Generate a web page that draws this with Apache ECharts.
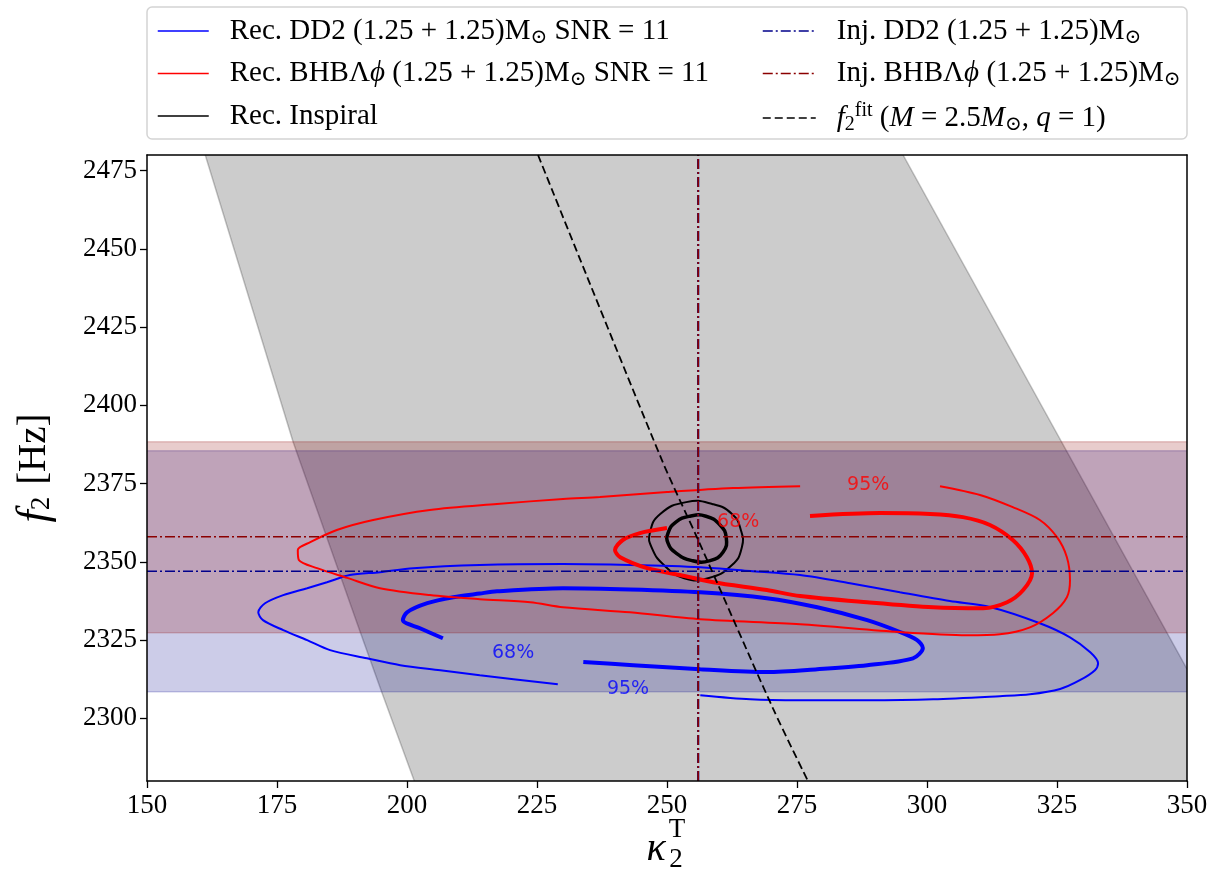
<!DOCTYPE html>
<html>
<head>
<meta charset="utf-8">
<script src="https://cdn.jsdelivr.net/npm/echarts@6/dist/echarts.min.js"></script>
<style>
  html, body { margin: 0; padding: 0; background: #fff; }
  #chart { width: 1212px; height: 875px; }
</style>
</head>
<body>
<div id="chart"></div>
<script>
// ---- axes ----
const xRange = [150, 350];
const yRange = [2280, 2480];
const xTicks = [150, 175, 200, 225, 250, 275, 300, 325, 350];
const yTicks = [2300, 2325, 2350, 2375, 2400, 2425, 2450, 2475];

// ---- injected values ----
const kappaInj = 256.0;
const f2InjDD2 = 2347.0;
const f2InjBHB = 2358.0;
const bandDD2 = [2308.5, 2385.5];
const bandBHB = [2327.4, 2388.4];

// ---- f2 fit curve and its uncertainty band (kappa, f2) ----
const fitLine = [[225.2, 2480], [249.0, 2382.6], [256.0, 2357.0], [270.4, 2303.1], [277.1, 2280]];
const fitBandLow = [[161.2, 2480], [178.1, 2388.3], [191.0, 2327.6], [195.2, 2308.1], [201.4, 2280]];
const fitBandHigh = [[295.4, 2480], [350.0, 2315.8]];

// ---- recovered posterior contours (kappa, f2) ----
const dd2Cont95 = [
  [229.0, 2310.9], [214.0, 2313.8], [206.4, 2315.4], [198.7, 2317.0], [192.3, 2319.2], [185.2, 2321.8],
  [180.8, 2325.0], [176.2, 2328.2], [172.3, 2331.4], [171.4, 2333.9], [172.7, 2336.8], [176.2, 2339.4],
  [180.8, 2341.6], [184.6, 2343.5], [189.0, 2345.8], [194.8, 2346.7], [201.2, 2348.0], [214.0, 2349.0],
  [230.0, 2349.3], [242.9, 2349.0], [256.4, 2348.3], [266.0, 2347.1], [275.6, 2345.8], [285.2, 2343.2],
  [294.8, 2340.3], [304.4, 2337.5], [312.1, 2335.6], [321.7, 2330.4], [327.5, 2325.9], [331.4, 2321.1],
  [332.9, 2317.6], [332.3, 2315.4], [329.4, 2312.2], [325.6, 2309.4], [319.8, 2307.7], [314.0, 2307.1],
  [301.2, 2306.1], [288.5, 2305.8], [275.6, 2305.8], [266.0, 2306.1], [256.4, 2307.4]
];
const dd2Cont68 = [
  [206.9, 2325.6], [202.5, 2328.8], [199.2, 2331.4], [200.0, 2333.9], [203.9, 2336.8], [208.9, 2338.7],
  [214.0, 2339.9], [217.3, 2340.6], [230.0, 2341.6], [242.9, 2341.2], [256.4, 2340.3], [269.2, 2338.4],
  [278.9, 2335.5], [288.5, 2331.4], [294.8, 2327.6], [298.1, 2325.0], [299.2, 2322.5], [297.3, 2319.2],
  [288.5, 2317.0], [278.9, 2315.7], [269.2, 2314.8], [256.4, 2315.7], [243.5, 2317.0], [233.9, 2318.0]
];
const bhbCont95 = [
  [275.6, 2374.2], [262.7, 2373.6], [250.0, 2372.3], [237.1, 2370.7], [230.0, 2370.1], [217.3, 2368.5],
  [204.4, 2366.6], [193.5, 2363.4], [186.5, 2360.2], [181.4, 2356.3], [179.0, 2353.8], [179.2, 2350.6],
  [182.7, 2348.0], [188.5, 2344.9], [194.8, 2341.6], [204.4, 2339.4], [214.0, 2338.1], [223.7, 2337.1],
  [230.0, 2335.5], [242.9, 2333.9], [256.4, 2331.7], [275.6, 2330.1], [294.8, 2327.6], [307.7, 2326.6],
  [314.0, 2326.9], [319.8, 2329.1], [324.2, 2333.6], [326.9, 2338.7], [327.5, 2344.1], [326.9, 2351.5],
  [325.0, 2357.9], [321.7, 2363.4], [316.5, 2367.5], [310.2, 2371.4], [302.5, 2374.2]
];
const bhbCont68 = [
  [250.0, 2360.8], [244.8, 2359.2], [241.5, 2357.0], [240.0, 2353.8], [241.0, 2351.5], [246.2, 2348.0],
  [252.5, 2345.8], [258.9, 2343.5], [269.2, 2341.0], [275.6, 2339.1], [288.5, 2337.1], [301.2, 2335.5],
  [310.8, 2335.2], [315.4, 2337.1], [318.5, 2341.0], [320.2, 2346.4], [319.2, 2351.5], [316.5, 2357.0],
  [312.1, 2361.8], [306.9, 2364.3], [300.6, 2365.3], [291.0, 2365.6], [277.5, 2364.7]
];
// inspiral-only contours are closed loops
const inspCont95 = [
  [246.7, 2359.2], [248.7, 2365.3], [253.7, 2369.1], [258.7, 2368.5], [262.5, 2365.3], [264.2, 2360.2],
  [264.4, 2354.7], [262.5, 2349.0], [257.9, 2344.8], [253.3, 2344.8], [249.4, 2349.0], [247.1, 2354.4]
];
const inspCont68 = [
  [250.2, 2359.2], [251.7, 2362.7], [254.4, 2364.6], [257.5, 2364.6], [260.2, 2361.8], [261.4, 2357.7],
  [260.8, 2353.2], [258.3, 2350.4], [254.8, 2350.4], [251.7, 2352.9], [250.2, 2356.0]
];

// ---- contour level labels (kappa, f2, text) ----
const dd2Labels = [[220.4, 2320.8, '68%'], [242.5, 2309.3, '95%']];
const bhbLabels = [[263.7, 2362.7, '68%'], [288.7, 2374.6, '95%']];

// ---- styling ----
const SERIF = "'Liberation Serif', 'DejaVu Serif', serif";
const BLUE = '#0000ff', RED = '#ff0000', DBLUE = '#00008b', DRED = '#8b0000';
const DASHDOT = [10, 3, 2, 3];

const NAMES = {
  dd2: 'Rec. DD2', bhb: 'Rec. BHBΛϕ', insp: 'Rec. Inspiral',
  injDD2: 'Inj. DD2', injBHB: 'Inj. BHBΛϕ', fit: 'f2 fit'
};
const legendText = {};
legendText[NAMES.dd2] = '{sp| }Rec. DD2 (1.25 + 1.25)M{sub|⊙} SNR = 11';
legendText[NAMES.bhb] = '{sp| }Rec. BHBΛ{i|ϕ} (1.25 + 1.25)M{sub|⊙} SNR = 11';
legendText[NAMES.insp] = '{sp| }Rec. Inspiral';
legendText[NAMES.injDD2] = '{sp| }Inj. DD2 (1.25 + 1.25)M{sub|⊙}';
legendText[NAMES.injBHB] = '{sp| }Inj. BHBΛ{i|ϕ} (1.25 + 1.25)M{sub|⊙}';
legendText[NAMES.fit] = '{sp| }{i|f}{sub|2}{sup|fit} ({i|M} = 2.5{i|M}{sub|⊙}, {i|q} = 1)';

const legendTextStyle = {
  fontFamily: SERIF, fontSize: 29, color: '#000', lineHeight: 30,
  rich: {
    sp: { width: 16 },
    i: { fontFamily: SERIF, fontSize: 29, fontStyle: 'italic', color: '#000' },
    sub: { fontFamily: SERIF, fontSize: 20, color: '#000', padding: [13, 0, 0, 0] },
    sup: { fontFamily: SERIF, fontSize: 20, color: '#000', padding: [0, 0, 14, 0] }
  }
};

function line(name, data, color, width, type, smooth) {
  return {
    type: 'line', name: name, data: data, symbol: 'none', smooth: smooth || 0,
    lineStyle: { color: color, width: width, type: type || 'solid' },
    itemStyle: { color: color }, silent: true, z: 3
  };
}

// closed, smoothed contour loops drawn through the cartesian scales
function loopSeries(loops) {
  return {
    type: 'custom', silent: true, z: 3, clip: true,
    data: loops.map(function (l) { return l.points[0]; }),
    renderItem: function (params, api) {
      const l = loops[params.dataIndex];
      return {
        type: 'polygon',
        shape: { points: l.points.map(function (p) { return api.coord(p); }), smooth: 0.5 },
        style: { fill: null, stroke: l.color, lineWidth: l.width }
      };
    }
  };
}

function hBand(range, color) {
  return {
    type: 'custom', silent: true, z: 1, clip: true,
    data: [[xRange[0], range[0], xRange[1], range[1]]],
    encode: { x: [0, 2], y: [1, 3] },
    renderItem: function (params, api) {
      const p0 = api.coord([api.value(0), api.value(1)]);
      const p1 = api.coord([api.value(2), api.value(3)]);
      return {
        type: 'group', children: [
          { type: 'rect', shape: { x: p0[0], y: p1[1], width: p1[0] - p0[0], height: p0[1] - p1[1] }, style: { fill: color } },
          { type: 'line', shape: { x1: p0[0], y1: p1[1], x2: p1[0], y2: p1[1] }, style: { stroke: color, lineWidth: 1.5 } },
          { type: 'line', shape: { x1: p0[0], y1: p0[1], x2: p1[0], y2: p0[1] }, style: { stroke: color, lineWidth: 1.5 } }
        ]
      };
    }
  };
}

const fitBandSeries = {
  type: 'custom', silent: true, z: 1, clip: true,
  data: [fitBandLow[0]],
  renderItem: function (params, api) {
    const left = fitBandLow.map(function (p) { return api.coord(p); });
    const right = fitBandHigh.map(function (p) { return api.coord(p); });
    const corner = api.coord([xRange[1], yRange[0]]);
    const poly = left.concat([corner], right.slice().reverse());
    const edge = { stroke: 'rgba(0,0,0,0.22)', lineWidth: 1.5, fill: null };
    return {
      type: 'group', children: [
        { type: 'polygon', shape: { points: poly }, style: { fill: 'rgba(0,0,0,0.2)' } },
        { type: 'polyline', shape: { points: left }, style: edge },
        { type: 'polyline', shape: { points: right }, style: edge }
      ]
    };
  }
};

function labelSeries(data, color) {
  return {
    type: 'scatter', data: data, symbolSize: 0, silent: true, z: 5,
    label: {
      show: true, position: 'inside', color: color,
      fontFamily: "'DejaVu Sans', sans-serif", fontSize: 19,
      formatter: function (p) { return p.value[2]; }
    }
  };
}

const axisLineStyle = { color: '#000', width: 1.5 };
const plainNumber = function (v) { return String(v); };

const option = {
  animation: false,
  backgroundColor: '#fff',
  grid: { left: 147, right: 25, top: 155, bottom: 94, containLabel: false },
  xAxis: [{
    type: 'value', min: xRange[0], max: xRange[1], z: 10,
    axisLine: { show: true, onZero: false, lineStyle: axisLineStyle },
    axisTick: { show: true, inside: false, length: 7, customValues: xTicks, lineStyle: { color: '#000', width: 1.3 } },
    axisLabel: { customValues: xTicks, formatter: plainNumber, fontFamily: SERIF, fontSize: 27, color: '#000', margin: 11 },
    splitLine: { show: false }
  }, {
    type: 'value', position: 'top', min: xRange[0], max: xRange[1], z: 10,
    axisLine: { show: true, onZero: false, lineStyle: axisLineStyle },
    axisTick: { show: false }, axisLabel: { show: false }, splitLine: { show: false }
  }],
  yAxis: [{
    type: 'value', min: yRange[0], max: yRange[1], z: 10,
    axisLine: { show: true, onZero: false, lineStyle: axisLineStyle },
    axisTick: { show: true, inside: false, length: 7, customValues: yTicks, lineStyle: { color: '#000', width: 1.3 } },
    axisLabel: { customValues: yTicks, formatter: plainNumber, fontFamily: SERIF, fontSize: 27, color: '#000', margin: 10 },
    splitLine: { show: false },
    name: '{i|f}{s|2}{g| }[Hz]', nameLocation: 'middle', nameGap: 90, nameRotate: 90,
    nameTextStyle: {
      fontFamily: SERIF, fontSize: 39, color: '#000',
      rich: {
        i: { fontFamily: SERIF, fontSize: 44, fontStyle: 'italic', color: '#000' },
        s: { fontFamily: SERIF, fontSize: 27, color: '#000', padding: [14, 0, 0, 0] },
        g: { width: 12 }
      }
    }
  }, {
    type: 'value', position: 'right', min: yRange[0], max: yRange[1], z: 10,
    axisLine: { show: true, onZero: false, lineStyle: axisLineStyle },
    axisTick: { show: false }, axisLabel: { show: false }, splitLine: { show: false }
  }],
  legend: [{
    orient: 'vertical', left: 157, top: 16, padding: 0, itemGap: 11,
    itemWidth: 51, itemHeight: 14, selectedMode: false, z: 20,
    data: [NAMES.dd2, NAMES.bhb, NAMES.insp],
    lineStyle: { width: 1.5 }, itemStyle: { opacity: 0 },
    formatter: function (n) { return legendText[n]; },
    textStyle: legendTextStyle
  }, {
    orient: 'vertical', left: 762, top: 16, padding: 0, itemGap: 11,
    itemWidth: 53, itemHeight: 14, selectedMode: false, z: 20,
    data: [NAMES.injDD2, NAMES.injBHB, NAMES.fit],
    lineStyle: { width: 1.5 }, itemStyle: { opacity: 0 },
    formatter: function (n) { return legendText[n]; },
    textStyle: legendTextStyle
  }],
  graphic: [
    { type: 'rect', z: 0, shape: { x: 147, y: 7, width: 1040, height: 132, r: 5 },
      style: { fill: '#fff', stroke: '#d4d4d4', lineWidth: 1.5 } },
    { type: 'text', z: 10, x: 656, y: 849,
      style: { text: 'κ', fontFamily: SERIF, fontSize: 40, fontStyle: 'italic', fill: '#000',
               align: 'center', verticalAlign: 'middle', textAlign: 'center', textVerticalAlign: 'middle' } },
    { type: 'text', z: 10, x: 677, y: 830,
      style: { text: 'T', fontFamily: SERIF, fontSize: 27, fill: '#000',
               align: 'center', verticalAlign: 'middle', textAlign: 'center', textVerticalAlign: 'middle' } },
    { type: 'text', z: 10, x: 676, y: 860,
      style: { text: '2', fontFamily: SERIF, fontSize: 27, fill: '#000',
               align: 'center', verticalAlign: 'middle', textAlign: 'center', textVerticalAlign: 'middle' } }
  ],
  series: [
    fitBandSeries,
    hBand(bandDD2, 'rgba(0,0,139,0.2)'),
    hBand(bandBHB, 'rgba(139,0,0,0.2)'),
    // recovered contours
    line(NAMES.dd2, dd2Cont95, BLUE, 2, 'solid', 0.3),
    line(NAMES.dd2, dd2Cont68, BLUE, 4, 'solid', 0.3),
    line(NAMES.bhb, bhbCont95, RED, 2, 'solid', 0.3),
    line(NAMES.bhb, bhbCont68, RED, 4, 'solid', 0.3),
    line(NAMES.insp, [], '#000', 2),
    loopSeries([
      { points: inspCont95, color: '#000', width: 2 },
      { points: inspCont68, color: '#000', width: 3.5 }
    ]),
    // injected values
    line(NAMES.injDD2, [[xRange[0], f2InjDD2], [xRange[1], f2InjDD2]], DBLUE, 1.5, DASHDOT),
    line(NAMES.injDD2, [[kappaInj, yRange[0]], [kappaInj, yRange[1]]], DBLUE, 2.2, DASHDOT),
    line(NAMES.injBHB, [[xRange[0], f2InjBHB], [xRange[1], f2InjBHB]], DRED, 1.5, DASHDOT),
    line(NAMES.injBHB, [[kappaInj, yRange[0]], [kappaInj, yRange[1]]], DRED, 1.6, DASHDOT),
    // quasi-universal fit
    line(NAMES.fit, fitLine, '#000', 1.8, [8, 4], 0.3),
    labelSeries(dd2Labels, BLUE),
    labelSeries(bhbLabels, RED)
  ]
};

const chart = echarts.init(document.getElementById('chart'), null, { renderer: 'canvas' });
chart.setOption(option);
</script>
</body>
</html>
